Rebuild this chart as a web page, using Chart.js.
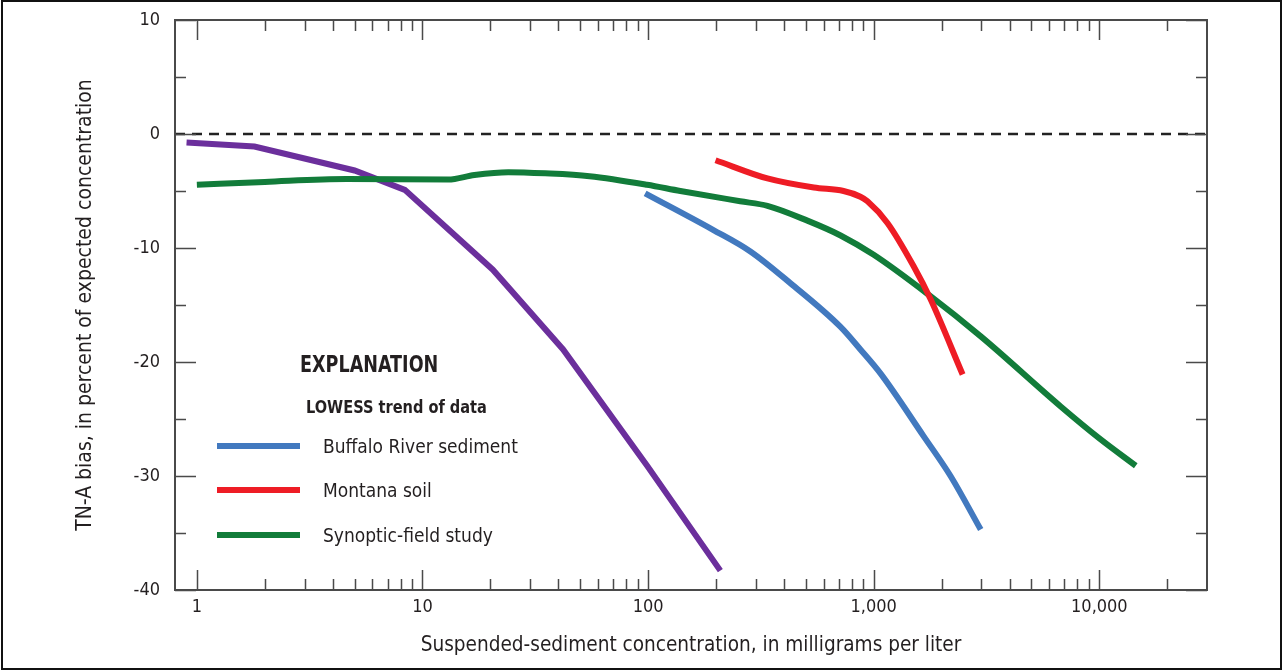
<!DOCTYPE html>
<html>
<head>
<meta charset="utf-8">
<script src="https://cdn.jsdelivr.net/npm/chart.js@4/dist/chart.umd.min.js"></script>
<style>
  html, body { margin: 0; padding: 0; background: #fff; }
</style>
</head>
<body>
<canvas id="chart" width="1283" height="671"></canvas>
<script>
const FONT = "'Liberation Sans Narrow', 'DejaVu Sans Condensed', 'Arial Narrow', sans-serif";
const INK = '#231f20';

// Suspended-sediment concentration (mg/L) vs TN-A bias (percent), LOWESS trends
const buffaloX = [97, 194, 284, 428, 711, 873, 1071, 1663, 2190, 2980];
const buffaloY = [-5.2, -8.4, -10.3, -13.1, -16.9, -18.9, -21.0, -26.5, -30.0, -34.7];

const montanaX = [199, 338, 543, 735, 873, 938, 1150, 1503, 1787, 2478];
const montanaY = [-2.3, -3.9, -4.7, -5.0, -5.5, -5.9, -7.8, -11.6, -14.5, -21.1];

const synopticX = [1.0, 2, 4.6, 13, 17, 24, 35, 55, 99, 139, 256, 338, 508, 713, 1000, 1750, 3000, 6740, 10000, 14500];
const synopticY = [-4.45, -4.2, -3.95, -4.0, -3.6, -3.35, -3.45, -3.7, -4.45, -5.0, -5.9, -6.3, -7.6, -8.9, -10.6, -14.1, -17.8, -23.9, -26.7, -29.1];

// unlabelled purple trend
const otherX = [0.9, 1.8, 5.0, 8.35, 20.5, 42, 99, 209];
const otherY = [-0.75, -1.1, -3.2, -4.9, -11.9, -18.9, -29.1, -38.3];

const legendNames = ['Buffalo River sediment', 'Montana soil', 'Synoptic-field study'];

// axis ticks
const xMajor = [1, 10, 100, 1000, 10000];
const xLabels = ['1', '10', '100', '1,000', '10,000'];
const xMinor = [2,3,4,5,6,7,8,9, 20,30,40,50,60,70,80,90, 200,300,400,500,600,700,800,900,
                2000,3000,4000,5000,6000,7000,8000,9000, 20000];
const yMajor = [10, 0, -10, -20, -30, -40];
const yMinor = [5, -5, -15, -25, -35];

const pts = (xs, ys) => xs.map((x, i) => ({ x: x, y: ys[i] }));

// text squeezed horizontally, to get close to the narrow font of the original
function narrowText(ctx, text, x, y, sx) {
  ctx.save();
  ctx.translate(x, y);
  ctx.scale(sx, 1);
  ctx.fillText(text, 0, 0);
  ctx.restore();
}

const decor = {
  id: 'decor',
  beforeDatasetsDraw(chart) {
    const { ctx, chartArea: a, scales: { y } } = chart;
    ctx.save();
    ctx.strokeStyle = '#222';
    ctx.lineWidth = 2.5;
    ctx.setLineDash([10, 7]);
    const py = Math.round(y.getPixelForValue(0));
    ctx.beginPath();
    ctx.moveTo(a.left, py);
    ctx.lineTo(a.right, py);
    ctx.stroke();
    ctx.restore();
  },
  afterDatasetsDraw(chart) {
    const { ctx, chartArea: a, scales: { x, y } } = chart;
    ctx.save();
    ctx.strokeStyle = '#4a4a4a';
    ctx.lineWidth = 2;
    ctx.strokeRect(a.left, a.top, a.right - a.left, a.bottom - a.top);
    ctx.lineWidth = 1.5;
    const xt = (v, len) => {
      const px = Math.round(x.getPixelForValue(v)) + 0.5;
      ctx.beginPath();
      ctx.moveTo(px, a.bottom); ctx.lineTo(px, a.bottom - len);
      ctx.moveTo(px, a.top); ctx.lineTo(px, a.top + len);
      ctx.stroke();
    };
    const yt = (v, len) => {
      const py = Math.round(y.getPixelForValue(v)) + 0.5;
      ctx.beginPath();
      ctx.moveTo(a.left, py); ctx.lineTo(a.left + len, py);
      ctx.moveTo(a.right, py); ctx.lineTo(a.right - len, py);
      ctx.stroke();
    };
    xMajor.forEach(v => xt(v, 20));
    xMinor.forEach(v => xt(v, 11));
    yMajor.forEach(v => yt(v, 21));
    yMinor.forEach(v => yt(v, 11));
    ctx.restore();
  },
  afterDraw(chart) {
    const { ctx } = chart;
    ctx.save();
    ctx.fillStyle = INK;

    // axis titles
    ctx.font = '21px ' + FONT;
    ctx.textAlign = 'center';
    ctx.textBaseline = 'middle';
    narrowText(ctx, 'Suspended-sediment concentration, in milligrams per liter', 691, 646, 0.98);
    ctx.save();
    ctx.translate(86, 305);
    ctx.rotate(-Math.PI / 2);
    ctx.fillText('TN-A bias, in percent of expected concentration', 0, 0);
    ctx.restore();

    // explanation
    ctx.textAlign = 'left';
    ctx.textBaseline = 'alphabetic';
    ctx.font = 'bold 23px ' + FONT;
    narrowText(ctx, 'EXPLANATION', 300, 372, 0.85);
    ctx.font = 'bold 18px ' + FONT;
    narrowText(ctx, 'LOWESS trend of data', 306, 413, 0.9);
    ctx.font = '19px ' + FONT;
    const rows = [446, 490, 535];
    legendNames.forEach((name, i) => {
      const ds = chart.data.datasets[i];
      ctx.strokeStyle = ds.borderColor;
      ctx.lineWidth = 6;
      ctx.beginPath();
      ctx.moveTo(217, rows[i]);
      ctx.lineTo(300, rows[i]);
      ctx.stroke();
      ctx.fillText(name, 323, rows[i] + 7);
    });

    // outer frame
    ctx.strokeStyle = '#111';
    ctx.lineWidth = 2;
    ctx.strokeRect(2, 1, 1279, 668);
    ctx.restore();
  }
};

new Chart(document.getElementById('chart'), {
  type: 'line',
  data: {
    datasets: [
      { label: legendNames[0], data: pts(buffaloX, buffaloY), borderColor: '#4279bf', cubicInterpolationMode: 'monotone' },
      { label: legendNames[1], data: pts(montanaX, montanaY), borderColor: '#ee1c25', cubicInterpolationMode: 'monotone' },
      { label: legendNames[2], data: pts(synopticX, synopticY), borderColor: '#127c3a', cubicInterpolationMode: 'monotone' },
      { label: 'other', data: pts(otherX, otherY), borderColor: '#6b2f9c', tension: 0 }
    ]
  },
  options: {
    responsive: false,
    animation: false,
    layout: { padding: { left: 0, top: 20, right: 76, bottom: 0 } },
    datasets: { line: { borderWidth: 6, pointRadius: 0, fill: false, borderCapStyle: 'butt' } },
    plugins: { legend: { display: false }, tooltip: { enabled: false } },
    scales: {
      x: {
        type: 'logarithmic',
        min: 0.8,
        max: 30000,
        grid: { display: false, drawTicks: false },
        border: { display: false },
        afterBuildTicks: s => { s.ticks = xMajor.map(v => ({ value: v })); },
        afterFit: s => { s.height = 81; s.paddingLeft = 0; s.paddingRight = 0; },
        ticks: {
          autoSkip: false,
          maxRotation: 0,
          padding: 7,
          color: INK,
          font: { family: FONT, size: 18 },
          callback: v => xLabels[xMajor.indexOf(v)]
        }
      },
      y: {
        min: -40,
        max: 10,
        grid: { display: false, drawTicks: false },
        border: { display: false },
        afterBuildTicks: s => { s.ticks = yMajor.map(v => ({ value: v })); },
        afterFit: s => { s.width = 175; s.paddingTop = 0; s.paddingBottom = 0; },
        ticks: {
          padding: 15,
          color: INK,
          font: { family: FONT, size: 18 },
          callback: v => String(v)
        }
      }
    }
  },
  plugins: [decor]
});
</script>
</body>
</html>
